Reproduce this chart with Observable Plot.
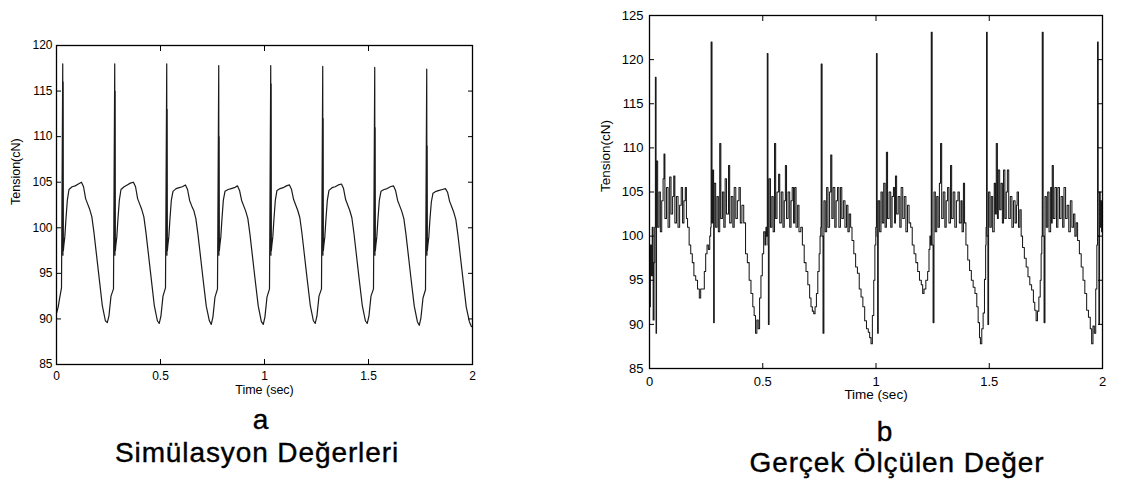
<!DOCTYPE html>
<html>
<head>
<meta charset="utf-8">
<script src="https://cdn.jsdelivr.net/npm/d3@7"></script>
<script src="https://cdn.jsdelivr.net/npm/@observablehq/plot@0.6"></script>
<style>
  html, body { margin: 0; padding: 0; background: #fff; }
  body { width: 1129px; height: 485px; position: relative; overflow: hidden; font-family: "Liberation Sans", Arial, sans-serif; }
  .panel { position: absolute; top: 0; }
  .cap { position: absolute; font-size: 28px; line-height: 1; color: #000; transform: translateX(-50%); white-space: nowrap; letter-spacing: 0.9px; -webkit-text-stroke: 0.4px #000; }
</style>
</head>
<body>
<div id="left" class="panel" style="left:0px"></div>
<div id="right" class="panel" style="left:590px"></div>
<div class="cap" style="left:261px; top:406px;">a</div>
<div class="cap" style="left:257px; top:439px;">Simülasyon Değerleri</div>
<div class="cap" style="left:885px; top:418px;">b</div>
<div class="cap" style="left:897px; top:449px;">Gerçek Ölçülen Değer</div>
<script>
// ---- tick values and labels ----
const xTicks = [0, 0.5, 1, 1.5, 2];
const xTickLabels = ["0", "0.5", "1", "1.5", "2"];
const yTicksSim = [85, 90, 95, 100, 105, 110, 115, 120];
const yTicksMeas = [85, 90, 95, 100, 105, 110, 115, 120, 125];
const xLabel = "Time (sec)";
const yLabel = "Tension(cN)";

// ---- panel a: simulated tension [time (s), tension (cN)] ----
const simulatedSeries = [
  [0,90.6],[0.008,91.3],[0.016,92.4],[0.024,93.4],
  [0.030,118],[0.031,97],[0.032,116],[0.033,97.5],[0.035,98],[0.040,99],[0.045,100.8],[0.052,103],[0.060,104.2],[0.075,104.5],[0.090,104.6],[0.105,104.8],[0.120,105],[0.130,104.5],[0.140,103.2],[0.150,102.6],[0.160,102],[0.170,101.2],[0.180,99.5],[0.190,97.5],[0.205,94.5],[0.220,91.5],[0.235,89.8],[0.244,89.6],[0.252,90.3],[0.262,92.5],[0.274,93.3],
  [0.280,118],[0.281,97],[0.282,115],[0.283,97.5],[0.285,98],[0.290,99],[0.295,100.8],[0.302,103],[0.310,104.2],[0.325,104.5],[0.340,104.7],[0.355,104.9],[0.370,105],[0.380,104.5],[0.390,103.2],[0.400,102.6],[0.410,102],[0.420,101.2],[0.430,99.5],[0.440,97.5],[0.455,94.5],[0.470,91.5],[0.485,89.8],[0.494,89.5],[0.502,90.3],[0.512,92.5],[0.524,93.4],
  [0.530,118],[0.531,97],[0.532,113],[0.533,97.5],[0.535,98],[0.540,99],[0.545,100.8],[0.552,103],[0.560,104],[0.575,104.3],[0.590,104.4],[0.605,104.5],[0.620,104.7],[0.630,104.2],[0.640,103],[0.650,102.4],[0.660,101.9],[0.670,101],[0.680,99.3],[0.690,97.3],[0.705,94.3],[0.720,91.4],[0.735,89.8],[0.744,89.4],[0.752,90.2],[0.762,92.4],[0.774,93.3],
  [0.780,117.8],[0.781,97],[0.782,110],[0.783,97.5],[0.785,98],[0.790,99],[0.795,100.8],[0.802,103],[0.810,104],[0.825,104.2],[0.840,104.3],[0.855,104.4],[0.870,104.6],[0.880,104.1],[0.890,103],[0.900,102.4],[0.910,101.8],[0.920,101],[0.930,99.3],[0.940,97.3],[0.955,94.3],[0.970,91.4],[0.985,89.7],[0.994,89.4],[1.002,90.2],[1.012,92.4],[1.024,93.3],
  [1.030,117.8],[1.031,97],[1.032,115.8],[1.033,97.5],[1.035,98],[1.040,99],[1.045,100.8],[1.052,103],[1.060,104.1],[1.075,104.3],[1.090,104.4],[1.105,104.6],[1.120,104.7],[1.130,104.2],[1.140,103.1],[1.150,102.5],[1.160,101.9],[1.170,101.1],[1.180,99.4],[1.190,97.4],[1.205,94.4],[1.220,91.5],[1.235,89.8],[1.244,89.5],[1.252,90.3],[1.262,92.5],[1.274,93.3],
  [1.280,117.7],[1.281,97],[1.282,112],[1.283,97.5],[1.285,98],[1.290,99],[1.295,100.8],[1.302,103],[1.310,104.1],[1.325,104.4],[1.340,104.5],[1.355,104.7],[1.370,104.8],[1.380,104.3],[1.390,103.1],[1.400,102.5],[1.410,101.9],[1.420,101.1],[1.430,99.4],[1.440,97.4],[1.455,94.4],[1.470,91.5],[1.485,89.8],[1.494,89.5],[1.502,90.3],[1.512,92.5],[1.524,93.3],
  [1.530,117.6],[1.531,97],[1.532,111],[1.533,97.5],[1.535,98],[1.540,99],[1.545,100.8],[1.552,103],[1.560,104],[1.575,104.2],[1.590,104.3],[1.605,104.5],[1.620,104.6],[1.630,104.1],[1.640,103],[1.650,102.4],[1.660,101.8],[1.670,101],[1.680,99.3],[1.690,97.3],[1.705,94.3],[1.720,91.4],[1.735,89.7],[1.744,89.3],[1.752,90.1],[1.762,92.3],[1.774,93.2],
  [1.780,117.4],[1.781,97],[1.782,109],[1.783,97.5],[1.785,98],[1.790,99],[1.795,100.8],[1.802,102.8],[1.810,103.8],[1.825,104],[1.840,104.1],[1.855,104.2],[1.870,104.3],[1.880,103.9],[1.890,102.9],[1.900,102.3],[1.910,101.7],[1.920,100.9],[1.930,99.2],[1.940,97.2],[1.955,94.2],[1.970,91.3],[1.985,89.7],[1.994,89.2],[2.0,89.1]
];

// ---- panel b: measured tension [time (s), tension (cN)] ----
const measuredSeries = [
  [0.000,92],[0.004,99],[0.008,95.5],[0.012,101],[0.016,90.5],[0.020,97],[0.023,101],
  [0.026,118],[0.029,89],[0.031,108.5],[0.036,101],[0.042,105],[0.048,100.5],[0.054,104],[0.060,106.5],[0.064,109.3],[0.068,102],[0.075,105.5],[0.082,101],[0.089,106.7],[0.095,102.5],[0.102,104.5],[0.107,106.8],[0.112,101.5],[0.119,104.5],[0.126,101],[0.133,103.5],[0.140,105.5],[0.146,101.5],[0.152,104],[0.158,105.5],[0.163,102],
  [0.168,101],[0.175,99],[0.182,98],[0.189,97],[0.196,95.5],[0.204,95],[0.212,94],[0.220,93],[0.226,94],[0.236,94],[0.242,96],[0.248,98],[0.254,99],[0.260,98.5],[0.266,100],[0.270,101],
  [0.272,122],[0.276,101.5],[0.280,107.5],[0.283,90.2],[0.286,106],[0.292,101],[0.298,104.5],[0.304,100.5],[0.310,110.5],[0.315,102],[0.322,105],[0.328,101],[0.334,106.5],[0.340,102.5],[0.349,108],[0.354,101.5],[0.361,104.5],[0.368,101],[0.374,105.5],[0.381,102],[0.388,104],[0.395,105.5],[0.401,101.5],[0.408,103.5],
  [0.416,101.5],[0.424,98],[0.432,97],[0.440,95],[0.448,93.5],[0.456,92],[0.462,91],[0.468,89],[0.474,90.5],[0.480,89.5],[0.486,93],[0.492,95.5],[0.498,98],[0.504,100.5],[0.510,99],[0.514,101],[0.518,100],
  [0.520,120.7],[0.523,99],[0.525,90],[0.528,106.5],[0.534,101],[0.540,104.5],[0.546,100.5],[0.552,110.5],[0.557,102],[0.563,105],[0.570,107],[0.575,101.5],[0.582,105],[0.589,101],[0.595,104],[0.600,108],[0.605,102],[0.612,105],[0.619,101],[0.625,104],[0.630,105.5],[0.636,101.5],[0.641,105.5],[0.647,101],[0.654,103.5],[0.660,100.5],
  [0.668,101],[0.675,99],[0.683,97],[0.691,96],[0.699,94.5],[0.707,93],[0.713,92],[0.719,91.5],[0.725,91.2],[0.731,92],[0.737,93.5],[0.743,96],[0.749,98],[0.753,100],[0.756,101],
  [0.758,119.5],[0.762,100],[0.766,89],[0.770,104],[0.776,100.5],[0.782,105.5],[0.788,101],[0.795,105],[0.800,109.2],[0.805,102],[0.811,105.5],[0.818,101],[0.824,104],[0.830,105.5],[0.836,101],[0.843,105.5],[0.849,102],[0.856,104],[0.863,101],[0.870,103.5],[0.876,100.5],[0.882,102.5],[0.888,101],
  [0.894,99.5],[0.902,98],[0.910,96.5],[0.918,95.8],[0.926,94],[0.934,93.1],[0.942,92],[0.950,90.4],[0.958,89.5],[0.966,89.1],[0.972,88.5],[0.978,87.8],[0.984,91],[0.990,95],[0.995,99],[0.999,101],
  [1.002,120.7],[1.005,100],[1.007,89],[1.010,104],[1.016,100.5],[1.022,105],[1.028,101.5],[1.034,106],[1.040,101],[1.046,109.5],[1.051,102],[1.058,105],[1.065,101],[1.071,104.5],[1.077,105.5],[1.082,101.5],[1.086,106.8],[1.091,102.5],[1.098,104.5],[1.105,101],[1.111,105.5],[1.118,102],[1.125,104.5],[1.132,100.5],[1.139,103.5],[1.146,101.5],
  [1.153,101],[1.160,99],[1.168,98],[1.176,97],[1.184,96],[1.192,95],[1.200,94.5],[1.206,93.5],[1.212,94],[1.220,95],[1.228,96],[1.234,98.5],[1.238,100],[1.242,99],
  [1.244,123.1],[1.248,99],[1.252,90.2],[1.256,105],[1.262,100.5],[1.268,104.5],[1.274,101],[1.280,106],[1.285,110.5],[1.290,102],[1.297,105],[1.304,101],[1.310,104],[1.316,105.5],[1.322,101.5],[1.329,108],[1.334,102],[1.341,105],[1.348,101],[1.355,104],[1.362,105],[1.368,101.5],[1.375,104],[1.380,100.5],[1.386,106],[1.391,101.5],
  [1.397,99],[1.405,97.3],[1.413,96.1],[1.421,95],[1.429,94.2],[1.437,93.5],[1.445,92],[1.451,90.2],[1.457,88.5],[1.461,87.8],[1.467,89.5],[1.473,91.3],[1.479,95.1],[1.484,99],[1.486,101],
  [1.488,123.1],[1.491,100],[1.494,90],[1.497,105],[1.503,101],[1.509,104.5],[1.515,100.5],[1.522,106],[1.527,102.5],[1.531,110.5],[1.536,102],[1.540,107.5],[1.546,103],[1.552,106],[1.558,101.5],[1.563,107.5],[1.569,102],[1.575,105],[1.580,107.5],[1.586,102],[1.593,104.5],[1.600,101],[1.607,104],[1.614,101.5],[1.620,103.5],[1.623,105],[1.629,101],[1.635,103],
  [1.641,100],[1.647,98.7],[1.655,97.5],[1.663,96.5],[1.671,95.4],[1.679,94.5],[1.687,93.9],[1.695,92.5],[1.701,91.6],[1.707,90.4],[1.713,91.5],[1.719,93.1],[1.725,95],[1.729,98],[1.732,100],
  [1.734,123.1],[1.738,100],[1.742,90.2],[1.746,104.5],[1.752,101],[1.758,105],[1.764,100.5],[1.771,105.5],[1.775,101.5],[1.778,108],[1.783,102],[1.790,105.5],[1.797,101],[1.803,105.5],[1.810,102],[1.817,104.5],[1.824,101],[1.830,105.5],[1.837,102],[1.844,103.5],[1.851,100.5],[1.858,104],[1.865,101],[1.872,102.5],[1.878,100],[1.884,101.5],
  [1.890,99.5],[1.898,98],[1.906,96.5],[1.914,95],[1.922,93.5],[1.930,91.6],[1.938,90.8],[1.946,89.5],[1.952,87.8],[1.958,89.8],[1.964,89],[1.970,94],[1.975,99],
  [1.978,122],[1.981,100],[1.984,90],[1.987,105],[1.990,101],[1.993,104],[1.996,100.5],[2.000,105]
];

function panel(o) {
  return Plot.plot({
    width: o.width, height: o.height,
    marginLeft: o.marginLeft, marginRight: o.marginRight,
    marginTop: o.marginTop, marginBottom: o.marginBottom,
    style: { fontFamily: "'Liberation Sans', Arial, sans-serif", fontSize: o.fontSize + "px", color: "#000", background: "transparent", overflow: "visible" },
    x: { domain: [0, 2] },
    y: { domain: [o.yTicks[0], o.yTicks[o.yTicks.length - 1]] },
    marks: [
      Plot.line(o.data, { x: d => d[0], y: d => d[1], stroke: "#1a1a1a", strokeWidth: o.lineWidth, curve: o.curve }),
      Plot.frame({ stroke: "#000", strokeWidth: 1.3 }),
      Plot.axisX(xTicks, { anchor: "bottom", tickSize: 0, tickPadding: o.xPad, tickFormat: d => xTickLabels[xTicks.indexOf(d)], label: null }),
      Plot.axisX(xTicks, { anchor: "bottom", tickSize: -5, fill: "none", label: null }),
      Plot.axisX(xTicks, { anchor: "top", tickSize: -5, fill: "none", label: null }),
      Plot.axisY(o.yTicks, { anchor: "left", tickSize: 0, tickPadding: o.yPad, tickFormat: d => String(d), label: null }),
      Plot.axisY(o.yTicks, { anchor: "left", tickSize: -5, fill: "none", label: null }),
      Plot.axisY(o.yTicks, { anchor: "right", tickSize: -5, fill: "none", label: null }),
      Plot.text([xLabel], { text: d => d, frameAnchor: "bottom", dy: o.xLabelDy, fontSize: o.labelSize }),
      Plot.text([yLabel], { text: d => d, frameAnchor: "left", dx: o.yLabelDx, rotate: -90, fontSize: o.labelSize })
    ]
  });
}

document.getElementById("left").append(panel({
  data: simulatedSeries, yTicks: yTicksSim, curve: "linear", lineWidth: 1.2,
  width: 492, height: 404, marginLeft: 56, marginRight: 20, marginTop: 45, marginBottom: 40,
  fontSize: 12, labelSize: 12.5, xPad: 7, yPad: 4, xLabelDy: 29, yLabelDx: -41
}));

document.getElementById("right").append(panel({
  data: measuredSeries, yTicks: yTicksMeas, curve: "step-after", lineWidth: 1.05,
  width: 532, height: 408, marginLeft: 59, marginRight: 20, marginTop: 15, marginBottom: 40,
  fontSize: 13, labelSize: 13.5, xPad: 8, yPad: 6, xLabelDy: 30, yLabelDx: -44
}));
</script>
</body>
</html>
